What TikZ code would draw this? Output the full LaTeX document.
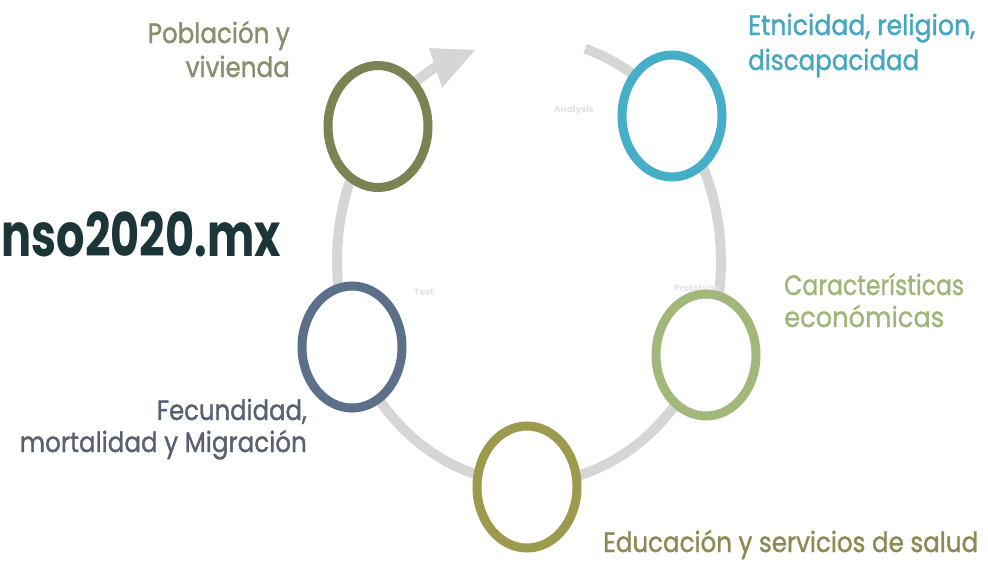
\documentclass[tikz,border=0pt]{standalone}
\usepackage{fontspec}
\setmainfont{Poppins}
\newfontfamily\popmed{Poppins}[FakeBold=1.3]
\usetikzlibrary{shapes.geometric}
\definecolor{arcgray}{HTML}{D6D6D6}
\definecolor{cPob}{HTML}{7A8452}
\definecolor{cEtn}{HTML}{46AEC6}
\definecolor{cCar}{HTML}{A2B87A}
\definecolor{cFec}{HTML}{5C7089}
\definecolor{cEdu}{HTML}{9C9A4C}
\definecolor{tPob}{HTML}{85906C}
\definecolor{tEtn}{HTML}{45A6BE}
\definecolor{tCar}{HTML}{A3B47A}
\definecolor{tFec}{HTML}{5A616E}
\definecolor{tEdu}{HTML}{8A8A52}
\definecolor{tBig}{HTML}{1B3538}
\definecolor{faint}{HTML}{E2E2E2}
\tikzset{
  ring/.style={ellipse, draw=#1, line width=9pt, fill=white, minimum width=100pt, minimum height=122pt, inner sep=0pt},
  lbl/.style={inner sep=0pt, text=#1, font=\popmed\fontsize{28}{34}\selectfont},
  faintlbl/.style={inner sep=0pt, text=faint, font=\fontsize{9}{10}\selectfont\bfseries}
}
\newcommand{\fitw}[2]{\resizebox{#1}{\height}{#2}}
\begin{document}
\begin{tikzpicture}[x=1pt,y=-1pt]
\useasboundingbox (0,0) rectangle (988,571);
\clip (0,0) rectangle (988,571);
% cycle arc
\draw[arcgray, line width=10pt] plot[domain=-73:243, samples=160] ({529+192*cos(\x)},{261+222*sin(\x)});
\fill[arcgray] (429,48) -- (475,50) -- (442,88) -- cycle;
% faint labels
\node[faintlbl] (an) at (574,110) {Analysis};
\node[faintlbl] (te) at (424,292) {Test};
\node[faintlbl] (pr) at (697,290) {Prototype};
% rings
\node[ring=cPob] (pob) at (378,126.5) {};
\node[ring=cEtn] (etn) at (672,116) {};
\node[ring=cCar] (car) at (706,355) {};
\node[ring=cFec] (fec) at (352,347) {};
\node[ring=cEdu] (edu) at (527,487) {};
% labels
\node[lbl=tPob, anchor=base east] (pob1) at (290,43) {\fitw{142pt}{Población y}};
\node[lbl=tPob, anchor=base east] (pob2) at (290,77) {\fitw{104pt}{vivienda}};
\node[lbl=tEtn, anchor=base west] (etn1) at (748,35) {\fitw{227pt}{Etnicidad, religion,}};
\node[lbl=tEtn, anchor=base west] (etn2) at (748,70) {\fitw{171pt}{discapacidad}};
\node[lbl=tCar, anchor=base west] (car1) at (784,295) {\fitw{180pt}{Características}};
\node[lbl=tCar, anchor=base west] (car2) at (784,327) {\fitw{160pt}{económicas}};
\node[lbl=tFec, anchor=base east] (fec1) at (307,420) {\fitw{150pt}{Fecundidad,}};
\node[lbl=tFec, anchor=base east] (fec2) at (307,452) {\fitw{287pt}{mortalidad y Migración}};
\node[lbl=tEdu, anchor=base west] (edu1) at (603,552) {\fitw{375pt}{Educación y servicios de salud}};
\node[inner sep=0pt, text=tBig, anchor=base east, font=\fontsize{60}{70}\selectfont\bfseries] (big) at (281,256) {\fitw{279pt}{nso2020.mx}};
\end{tikzpicture}
\end{document}
